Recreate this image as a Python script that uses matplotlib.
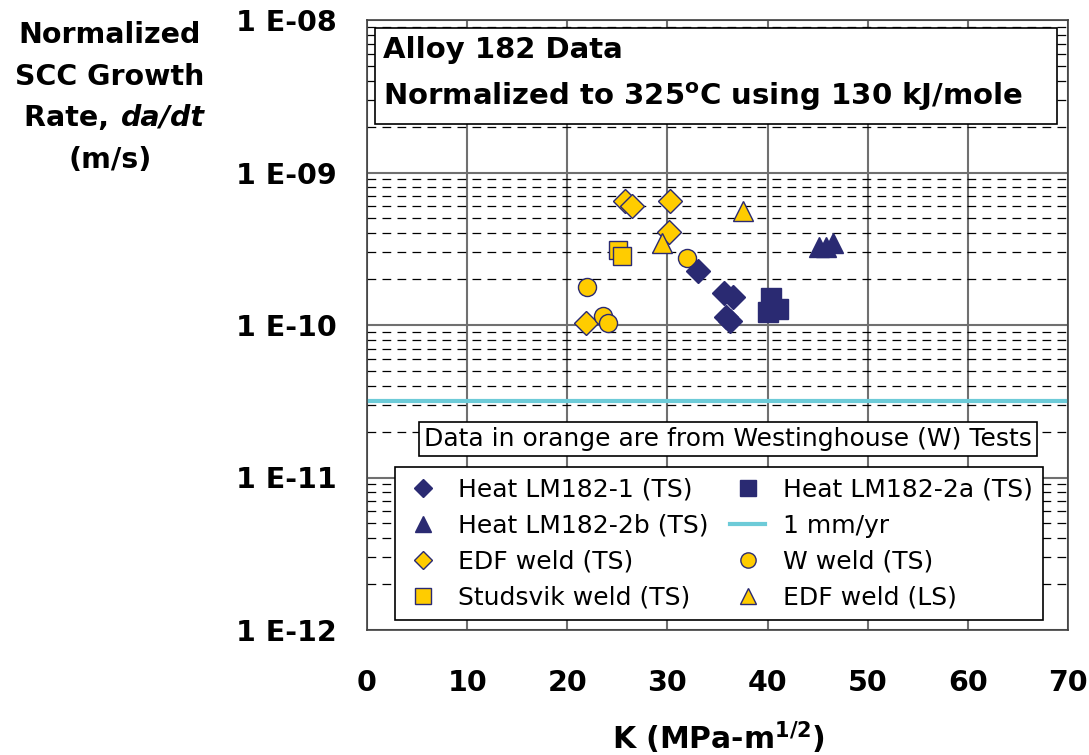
import matplotlib
matplotlib.use("Agg")
import matplotlib.pyplot as plt
from matplotlib.lines import Line2D
from matplotlib.patches import Rectangle
from matplotlib.ticker import FixedLocator, LogLocator, NullFormatter, FixedFormatter

# ---------------- data ----------------
lm182_1_K = [33.1, 35.6, 36.5, 35.8, 36.2]
lm182_1_v = [2.26e-10, 1.62e-10, 1.53e-10, 1.13e-10, 1.07e-10]

lm182_2a_K = [40.3, 40.0, 41.0]
lm182_2a_v = [1.50e-10, 1.22e-10, 1.27e-10]

lm182_2b_K = [45.1, 45.8, 46.5]
lm182_2b_v = [3.25e-10, 3.25e-10, 3.45e-10]

edf_ts_K = [25.8, 26.5, 30.3, 30.2, 21.9]
edf_ts_v = [6.5e-10, 6.0e-10, 6.5e-10, 4.07e-10, 1.03e-10]

w_weld_K = [32.0, 22.0, 23.6, 24.1]
w_weld_v = [2.75e-10, 1.77e-10, 1.15e-10, 1.03e-10]

studsvik_K = [25.1, 25.5]
studsvik_v = [3.1e-10, 2.83e-10]

edf_ls_K = [37.5, 29.5]
edf_ls_v = [5.6e-10, 3.45e-10]

rate_1mm_per_yr = 3.17e-11

x_ticks = [0, 10, 20, 30, 40, 50, 60, 70]
y_ticks = [1e-12, 1e-11, 1e-10, 1e-9, 1e-8]
y_tick_labels = ["1 E-12", "1 E-11", "1 E-10", "1 E-09", "1 E-08"]

NAVY = "#2A2A72"
YELLOW = "#FFCC00"
CYAN = "#6DCBD8"

plt.rcParams['font.family'] = ['DejaVu Sans']
plt.rcParams['mathtext.fontset'] = 'dejavusans'

W, H = 1089, 755
fig = plt.figure(figsize=(W / 100, H / 100), dpi=100)
ax = fig.add_axes([367 / W, 1 - 630 / H, 701 / W, 610 / H])

ax.set_yscale('log')
ax.set_xlim(0, 70)
ax.set_ylim(1e-12, 1e-8)

ax.xaxis.set_major_locator(FixedLocator(x_ticks))
ax.yaxis.set_major_locator(FixedLocator(y_ticks))
ax.yaxis.set_major_formatter(FixedFormatter(y_tick_labels))
ax.yaxis.set_minor_locator(LogLocator(base=10, subs=range(2, 10), numticks=20))
ax.yaxis.set_minor_formatter(NullFormatter())

ax.tick_params(axis='y', which='major', length=0, pad=22, labelsize=20.5)
ax.tick_params(axis='y', which='minor', length=0)
ax.tick_params(axis='x', which='major', length=0, pad=28, labelsize=20.5)
for lab in ax.get_xticklabels() + ax.get_yticklabels():
    lab.set_fontweight('bold')

ax.grid(True, axis='x', which='major', color='#707070', lw=1.5, ls='-')
ax.grid(True, axis='y', which='major', color='#707070', lw=1.5, ls='-')
ax.grid(True, axis='y', which='minor', color='black', lw=0.9, ls=(0, (7, 5)))
ax.set_axisbelow(True)
for s in ax.spines.values():
    s.set_color('#404040')
    s.set_linewidth(1.2)

ax.axhline(rate_1mm_per_yr, color=CYAN, lw=3, zorder=2)
ax.plot(edf_ts_K, edf_ts_v, ls='none', marker='D', ms=12, mfc=YELLOW, mec=NAVY, mew=1, zorder=3)
ax.plot(w_weld_K, w_weld_v, ls='none', marker='o', ms=13, mfc=YELLOW, mec=NAVY, mew=1, zorder=3)
ax.plot(studsvik_K, studsvik_v, ls='none', marker='s', ms=13, mfc=YELLOW, mec=NAVY, mew=1, zorder=3)
ax.plot(edf_ls_K, edf_ls_v, ls='none', marker='^', ms=14.5, mfc=YELLOW, mec=NAVY, mew=1, zorder=3)
ax.plot(lm182_1_K, lm182_1_v, ls='none', marker='D', ms=12, mfc=NAVY, mec=NAVY, mew=1, zorder=3)
ax.plot(lm182_2a_K, lm182_2a_v, ls='none', marker='s', ms=15, mfc=NAVY, mec=NAVY, mew=1, zorder=3)
ax.plot(lm182_2b_K, lm182_2b_v, ls='none', marker='^', ms=14.5, mfc=NAVY, mec=NAVY, mew=1, zorder=3)

# title box
ax.add_patch(Rectangle(((375 - 367) / 701, (630 - 124) / 610), (1057 - 375) / 701, (124 - 28) / 610,
                       transform=ax.transAxes, fc='white', ec='black', lw=1.2, zorder=4))
tfont = dict(family='DejaVu Sans', weight='bold', size=21)
ax.text((383 - 367) / 701, (630 - 50) / 610, "Alloy 182 Data", transform=ax.transAxes,
        ha='left', va='center', zorder=5, **tfont)
ax.text((383 - 367) / 701, (630 - 97) / 610, "Normalized to 325$^{\\mathbf{o}}$C using 130 kJ/mole",
        transform=ax.transAxes, ha='left', va='center', zorder=5, **tfont)

# note box
ax.text((728 - 367) / 701, (630 - 439) / 610, "Data in orange are from Westinghouse (W) Tests",
        transform=ax.transAxes, ha='center', va='center', zorder=5, size=18,
        bbox=dict(boxstyle='square,pad=0.2', fc='white', ec='black', lw=1.2))

# legend
lh = [
    Line2D([], [], ls='none', marker='D', ms=9, mfc=NAVY, mec=NAVY),
    Line2D([], [], ls='none', marker='^', ms=11, mfc=NAVY, mec=NAVY),
    Line2D([], [], ls='none', marker='D', ms=9, mfc=YELLOW, mec=NAVY),
    Line2D([], [], ls='none', marker='s', ms=11, mfc=YELLOW, mec=NAVY),
    Line2D([], [], ls='none', marker='s', ms=11, mfc=NAVY, mec=NAVY),
    Line2D([], [], color=CYAN, lw=3),
    Line2D([], [], ls='none', marker='o', ms=11, mfc=YELLOW, mec=NAVY),
    Line2D([], [], ls='none', marker='^', ms=11, mfc=YELLOW, mec=NAVY),
]
ll = ["Heat LM182-1 (TS)", "Heat LM182-2b (TS)", "EDF weld (TS)", "Studsvik weld (TS)",
      "Heat LM182-2a (TS)", "1 mm/yr", "W weld (TS)", "EDF weld (LS)"]
leg = ax.legend(lh, ll, ncol=2, loc='lower left',
                bbox_to_anchor=((395 - 367) / 701, (630 - 620) / 610, (1043 - 395) / 701, 0.2),
                mode='expand', borderaxespad=0, fancybox=False, framealpha=1, edgecolor='black',
                prop=dict(size=18), handlelength=1.4, handletextpad=0.7, labelspacing=0.48,
                borderpad=0.42)
leg.get_frame().set_linewidth(1.2)
leg.set_zorder(6)

# axis labels
yl = dict(ha='center', va='center', fontsize=20.5, fontweight='bold')
fig.text(110 / W, 1 - 35 / H, "Normalized", **yl)
fig.text(110 / W, 1 - 77 / H, "SCC Growth", **yl)
fig.text(119 / W, 1 - 118 / H, "Rate, ", ha='right', va='center', fontsize=20.5, fontweight='bold')
fig.text(121 / W, 1 - 118 / H, "da/dt", ha='left', va='center', fontsize=20.5, fontweight='bold', style='italic')
fig.text(110 / W, 1 - 160 / H, "(m/s)", **yl)

fig.text(718 / W, 1 - 738 / H, "K (MPa-m$^{\\mathbf{1/2}}$)", ha='center', va='center',
         fontsize=21.5, fontweight='bold')

fig.savefig("out.png", dpi=100)
